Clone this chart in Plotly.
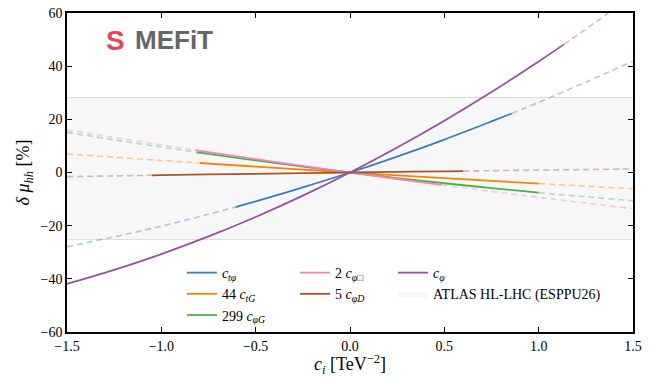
import plotly.graph_objects as go

# ---------------- data ----------------
ctphi_x = [-1.5, -1.25, -1.0, -0.75, -0.606, -0.5, -0.25, 0.0, 0.25, 0.5, 0.75, 0.857, 1.0, 1.25, 1.5]
ctphi_y = [-27.9, -24.2, -20.2, -15.7, -13.0, -10.9, -5.6, 0.0, 6.0, 12.4, 19.2, 22.2, 26.4, 34.0, 41.9]
ctphi_solid = (-0.606, 0.857)

ctG_x = [-1.5, -1.25, -1.0, -0.795, -0.75, -0.5, -0.25, 0.0, 0.25, 0.5, 0.75, 1.0, 1.25, 1.5]
ctG_y = [6.95, 5.74, 4.54, 3.58, 3.37, 2.22, 1.10, 0.0, -1.08, -2.13, -3.15, -4.16, -5.14, -6.1]
ctG_solid = (-0.795, 1.0)

cphiG_x = [-1.5, -1.25, -1.0, -0.812, -0.75, -0.5, -0.25, 0.0, 0.25, 0.5, 0.75, 1.0, 1.25, 1.5]
cphiG_y = [15.1, 12.27, 9.57, 7.62, 6.99, 4.54, 2.2, 0.0, -2.08, -4.04, -5.87, -7.57, -9.15, -10.6]
cphiG_solid = (-0.812, 1.0)

cphibox_x = [-1.5, -1.25, -1.0, -0.82, -0.75, -0.5, -0.25, 0.0, 0.25, 0.486, 0.5, 0.75, 1.0, 1.25, 1.5]
cphibox_y = [16.0, 13.17, 10.4, 8.45, 7.70, 5.07, 2.5, 0.0, -2.44, -4.67, -4.8, -7.10, -9.34, -11.51, -13.6]
cphibox_solid = (-0.82, 0.486)

cphiD_x = [-1.5, -1.25, -1.05, -1.0, -0.75, -0.5, -0.25, 0.0, 0.25, 0.5, 0.6, 0.75, 1.0, 1.25, 1.5]
cphiD_y = [-1.54, -1.27, -1.05, -1.0, -0.74, -0.49, -0.24, 0.0, 0.23, 0.46, 0.55, 0.68, 0.9, 1.11, 1.31]
cphiD_solid = (-1.05, 0.6)

cphi_x = [-1.5, -1.25, -1.0, -0.75, -0.5, -0.25, 0.0, 0.25, 0.5, 0.75, 1.0, 1.134, 1.25, 1.5]
cphi_y = [-41.9, -36.65, -30.7, -24.06, -16.73, -8.71, 0.0, 9.41, 19.5, 30.28, 41.76, 48.2, 53.93, 66.8]
cphi_solid = (-1.5, 1.134)

band_lo, band_hi = -25.0, 28.0
x_range = [-1.5, 1.5]
y_range = [-60, 60]

labels = {
    "ctphi": "<i>c</i><sub><i>tφ</i></sub>",
    "ctG": "44 <i>c</i><sub><i>tG</i></sub>",
    "cphiG": "299 <i>c</i><sub><i>φG</i></sub>",
    "cphibox": "2 <i>c</i><sub><i>φ</i>□</sub>",
    "cphiD": "5 <i>c</i><sub><i>φD</i></sub>",
    "cphi": "<i>c</i><sub><i>φ</i></sub>",
    "band": "ATLAS HL-LHC (ESPPU26)",
}

colors = {
    "ctphi": (55, 126, 184),
    "ctG": (255, 127, 0),
    "cphiG": (77, 175, 74),
    "cphibox": (247, 129, 191),
    "cphiD": (166, 86, 40),
    "cphi": (152, 78, 163),
}

series = [
    ("ctphi", ctphi_x, ctphi_y, ctphi_solid, "legend"),
    ("ctG", ctG_x, ctG_y, ctG_solid, "legend"),
    ("cphiG", cphiG_x, cphiG_y, cphiG_solid, "legend"),
    ("cphibox", cphibox_x, cphibox_y, cphibox_solid, "legend2"),
    ("cphiD", cphiD_x, cphiD_y, cphiD_solid, "legend2"),
    ("cphi", cphi_x, cphi_y, cphi_solid, "legend3"),
]

FONT = "Liberation Serif"

fig = go.Figure()

# band
fig.add_trace(go.Scatter(
    x=[x_range[0], x_range[1], x_range[1], x_range[0], x_range[0]],
    y=[band_lo, band_lo, band_hi, band_hi, band_lo],
    fill="toself", fillcolor="#f7f7f7", mode="lines",
    line=dict(width=0, color="#f7f7f7"),
    name=labels["band"], legend="legend3", legendrank=2, hoverinfo="skip",
))
fig.add_shape(type="line", xref="x", yref="y", x0=x_range[0], x1=x_range[1],
              y0=band_hi, y1=band_hi, line=dict(color="#bdbdbd", width=1.2), layer="below")
fig.add_shape(type="line", xref="x", yref="y", x0=x_range[0], x1=x_range[1],
              y0=band_lo, y1=band_lo, line=dict(color="#bdbdbd", width=1.2), layer="below")

for key, xs, ys, (lo, hi), leg in series:
    r, g, b = colors[key]
    solid = f"rgb({r},{g},{b})"
    light = f"rgba({r},{g},{b},0.4)"
    left = [(x, y) for x, y in zip(xs, ys) if x <= lo]
    mid = [(x, y) for x, y in zip(xs, ys) if lo <= x <= hi]
    right = [(x, y) for x, y in zip(xs, ys) if x >= hi]
    for seg in (left, right):
        if len(seg) > 1:
            fig.add_trace(go.Scatter(
                x=[p[0] for p in seg], y=[p[1] for p in seg], mode="lines",
                line=dict(color=light, width=1.6, dash="6px,4px", shape="spline"),
                showlegend=False, hoverinfo="skip",
            ))
    fig.add_trace(go.Scatter(
        x=[p[0] for p in mid], y=[p[1] for p in mid], mode="lines",
        line=dict(color=solid, width=1.8, shape="spline"),
        name=labels[key], legend=leg, legendrank=1,
    ))

axis_common = dict(
    showgrid=False, zeroline=False, showline=True, linecolor="black", linewidth=1.5,
    mirror="ticks", ticks="inside", ticklen=5, tickwidth=1.2, tickcolor="black",
    tickfont=dict(family=FONT, size=14, color="black"), automargin=False,
)

fig.update_xaxes(range=x_range, tickvals=[-1.5, -1.0, -0.5, 0.0, 0.5, 1.0, 1.5],
                 tickformat=".1f",
                 title=dict(text="<i>c</i><sub><i>i</i></sub> [TeV<sup>−2</sup>]",
                            font=dict(family=FONT, size=18, color="black"), standoff=4),
                 **axis_common)
fig.update_yaxes(range=y_range, tickvals=[-60, -40, -20, 0, 20, 40, 60],
                 title=dict(text="<i>δ μ</i><sub><i>hh</i></sub> [%]",
                            font=dict(family=FONT, size=18, color="black"), standoff=6),
                 **axis_common)

leg_common = dict(
    yanchor="top", xanchor="left", bgcolor="rgba(0,0,0,0)",
    font=dict(family=FONT, size=14, color="black"), itemwidth=30, tracegroupgap=0,
)
fig.update_layout(
    width=657, height=377,
    margin=dict(l=67, r=24, t=13, b=45, autoexpand=False),
    plot_bgcolor="white", paper_bgcolor="white",
    legend=dict(x=0.203, y=0.235, **leg_common),
    legend2=dict(x=0.403, y=0.235, **leg_common),
    legend3=dict(x=0.576, y=0.235, **leg_common),
    showlegend=True,
)

# logo
fig.add_annotation(xref="paper", yref="paper", x=0.066, y=0.915, xanchor="left", yanchor="middle",
                   text="<b>S</b>", showarrow=False,
                   font=dict(family="Liberation Sans", size=28, color="#e0475b"))
fig.add_annotation(xref="paper", yref="paper", x=0.116, y=0.915, xanchor="left", yanchor="middle",
                   text="<b>MEFiT</b>", showarrow=False,
                   font=dict(family="Liberation Sans", size=26, color="#666666"))

fig.write_html("out.html")
